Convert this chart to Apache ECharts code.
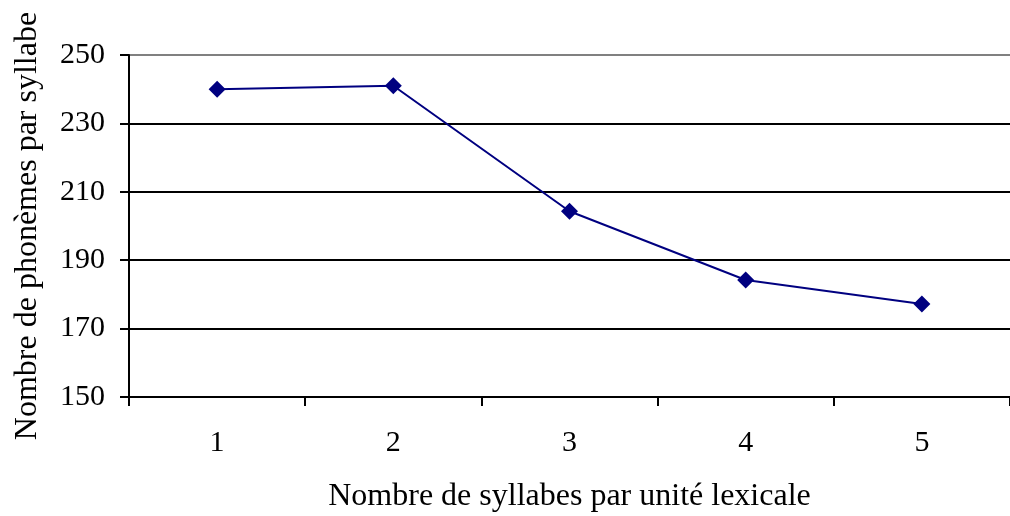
<!DOCTYPE html>
<html>
<head>
<meta charset="utf-8">
<script src="https://cdn.jsdelivr.net/npm/echarts@6/dist/echarts.min.js"></script>
<style>
  html, body { margin: 0; padding: 0; background: #fff; }
  #chart { width: 1010px; height: 516px; }
</style>
</head>
<body>
<div id="chart"></div>
<script>
// Syllables per lexical unit and phonemes per syllable
const categories = ['1', '2', '3', '4', '5'];
const phonemes = [240, 241, 204.3, 184.2, 177.2];
const yTicks = [150, 170, 190, 210, 230, 250];

const font = 'Liberation Serif, Times New Roman, serif';
const chart = echarts.init(document.getElementById('chart'));
chart.setOption({
  animation: false,
  backgroundColor: '#ffffff',
  grid: {
    left: 129, right: 0, top: 55, bottom: 119,
    containLabel: false,
    outerBoundsMode: 'none'
  },
  xAxis: {
    type: 'category',
    data: categories,
    boundaryGap: true,
    name: 'Nombre de syllabes par unité lexicale',
    nameLocation: 'middle',
    nameGap: 84,
    nameTextStyle: { fontFamily: font, fontSize: 32, color: '#000' },
    axisLine: { lineStyle: { color: '#000', width: 2 } },
    axisTick: { show: true, length: 9, lineStyle: { color: '#000', width: 2 } },
    axisLabel: { fontFamily: font, fontSize: 30, color: '#000', margin: 31 },
    splitLine: { show: false }
  },
  yAxis: {
    type: 'value',
    min: yTicks[0],
    max: yTicks[yTicks.length - 1],
    interval: 20,
    name: 'Nombre de phonèmes par syllabe',
    nameLocation: 'middle',
    nameGap: 85,
    nameTextStyle: { fontFamily: font, fontSize: 32, color: '#000' },
    axisLine: { show: true, lineStyle: { color: '#000', width: 2 } },
    axisTick: { show: true, length: 9, lineStyle: { color: '#000', width: 2 } },
    axisLabel: { fontFamily: font, fontSize: 30, color: '#000', margin: 24 },
    splitLine: {
      show: true,
      lineStyle: { color: ['#000', '#000', '#000', '#000', '#000', '#808080'], width: 2 }
    }
  },
  series: [{
    type: 'line',
    data: phonemes,
    symbol: 'diamond',
    symbolSize: 17,
    lineStyle: { color: '#000080', width: 2 },
    itemStyle: { color: '#000080' }
  }]
});
</script>
</body>
</html>
